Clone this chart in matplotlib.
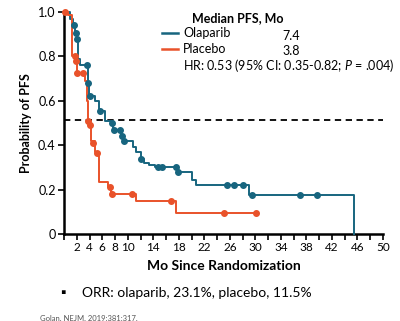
import matplotlib
matplotlib.use("Agg")
import matplotlib.pyplot as plt

plt.rcParams['font.family'] = ['Lato', 'DejaVu Sans']
plt.rcParams['mathtext.fontset'] = 'custom'
plt.rcParams['mathtext.rm'] = 'Lato'
plt.rcParams['mathtext.it'] = 'Lato:italic'

# data
olap_t = [0, 0.9, 1.4, 1.8, 2.0, 2.2, 2.5, 3.7, 3.9, 4.9, 5.5, 6.4, 7.5, 7.7,
          9.0, 9.3, 10.8, 11.3, 12.0, 12.6, 13.4, 14.3, 17.7, 20.1, 20.7, 29.0, 45.5]
olap_s = [1.0, 0.97, 0.94, 0.905, 0.88, 0.79, 0.76, 0.68, 0.62, 0.60, 0.555, 0.51,
          0.50, 0.47, 0.44, 0.42, 0.39, 0.37, 0.34, 0.32, 0.31, 0.30, 0.28, 0.245,
          0.22, 0.175, 0.0]
olap_cens_t = [1.6, 1.9, 2.0, 3.6, 3.8, 4.0, 5.6, 7.6, 7.9, 8.8, 9.1, 9.4, 12.0,
               14.7, 15.4, 17.5, 17.9, 25.6, 26.6, 28.0, 29.5, 37.0, 39.7]
olap_cens_s = [0.94, 0.905, 0.88, 0.76, 0.68, 0.62, 0.555, 0.50, 0.47, 0.47, 0.44,
               0.42, 0.34, 0.30, 0.30, 0.30, 0.28, 0.22, 0.22, 0.22, 0.175, 0.175, 0.175]

plac_t = [0, 0.6, 1.2, 1.8, 2.0, 3.3, 3.6, 3.8, 4.0, 4.3, 4.8, 5.5, 6.9, 7.4,
          11.3, 17.5, 30.1]
plac_s = [1.0, 0.985, 0.80, 0.78, 0.725, 0.69, 0.60, 0.51, 0.49, 0.42, 0.37, 0.235,
          0.21, 0.18, 0.148, 0.095, 0.095]
plac_cens_t = [0.15, 1.7, 1.9, 2.0, 2.9, 3.8, 4.0, 4.5, 5.2, 7.2, 7.5, 10.7, 16.8,
               25.0, 30.1]
plac_cens_s = [1.0, 0.80, 0.78, 0.725, 0.725, 0.51, 0.49, 0.41, 0.365, 0.21, 0.18,
               0.18, 0.148, 0.095, 0.095]

median_line = 0.513
x_ticks = list(range(0, 51, 2))
x_labels = ['2', '4', '6', '8', '10', '14', '18', '22', '26', '30', '34', '38', '42', '46', '50']
y_ticks = [0, 0.2, 0.4, 0.6, 0.8, 1.0]
y_labels = ['0', '0.2', '0.4', '0.6', '0.8', '1.0']

blue = '#17657f'
orange = '#e9522a'

fig = plt.figure(figsize=(4, 3.21), dpi=100)
ax = fig.add_axes([0.16, 0.271, 0.7975, 0.6916])

ax.step(olap_t, olap_s, where='post', color=blue, lw=1.4, clip_on=False, zorder=3)
ax.plot(olap_cens_t, olap_cens_s, 'o', color=blue, ms=4, clip_on=False, zorder=4)
ax.step(plac_t, plac_s, where='post', color=orange, lw=1.4, clip_on=False, zorder=3)
ax.plot(plac_cens_t, plac_cens_s, 'o', color=orange, ms=4, clip_on=False, zorder=4)

ax.plot([0, 50], [median_line, median_line], color='black', lw=1.3,
        dashes=(3.5, 2.5), zorder=2)

ax.set_xlim(0, 50)
ax.set_ylim(0, 1.0)
ax.set_xticks(x_ticks)
lab_map = {int(l): l for l in x_labels}
ax.set_xticklabels([lab_map.get(t, '') for t in x_ticks], fontsize=8.5)
ax.set_yticks(y_ticks)
ax.set_yticklabels(y_labels, fontsize=9)
ax.tick_params(direction='out', length=4, width=1.2, pad=2)
for s in ['top', 'right']:
    ax.spines[s].set_visible(False)
for s in ['left', 'bottom']:
    ax.spines[s].set_linewidth(1.8)

ax.set_ylabel('Probability of PFS', fontsize=9, fontweight='bold', labelpad=4)
ax.set_xlabel('Mo Since Randomization', fontsize=10, fontweight='bold', labelpad=5)

# legend block
fig.text(238 / 400, 1 - 18 / 321, 'Median PFS, Mo', fontsize=9, fontweight='bold',
         ha='center', va='center')
fig.add_artist(plt.Line2D([162 / 400, 178 / 400], [1 - 33 / 321] * 2, color=blue, lw=1.8))
fig.add_artist(plt.Line2D([162 / 400, 178 / 400], [1 - 49 / 321] * 2, color=orange, lw=1.8))
fig.text(183 / 400, 1 - 33 / 321, 'Olaparib', fontsize=9, va='center')
fig.text(183 / 400, 1 - 49 / 321, 'Placebo', fontsize=9, va='center')
fig.text(282 / 400, 1 - 36 / 321, '7.4', fontsize=9, va='center')
fig.text(282 / 400, 1 - 51 / 321, '3.8', fontsize=9, va='center')
fig.text(183 / 400, 1 - 66 / 321, 'HR: 0.53 (95% CI: 0.35-0.82; $P$ = .004)',
         fontsize=9, va='center')

fig.text(60 / 400, 1 - 293 / 321, '\u25aa', fontsize=10, va='center')
fig.text(82 / 400, 1 - 293 / 321, 'ORR: olaparib, 23.1%, placebo, 11.5%',
         fontsize=10, va='center')
fig.text(40 / 400, 1 - 318 / 321, 'Golan. NEJM. 2019;381:317.', fontsize=5.5,
         color='#555555', va='center')

fig.savefig('out.png', dpi=100)
